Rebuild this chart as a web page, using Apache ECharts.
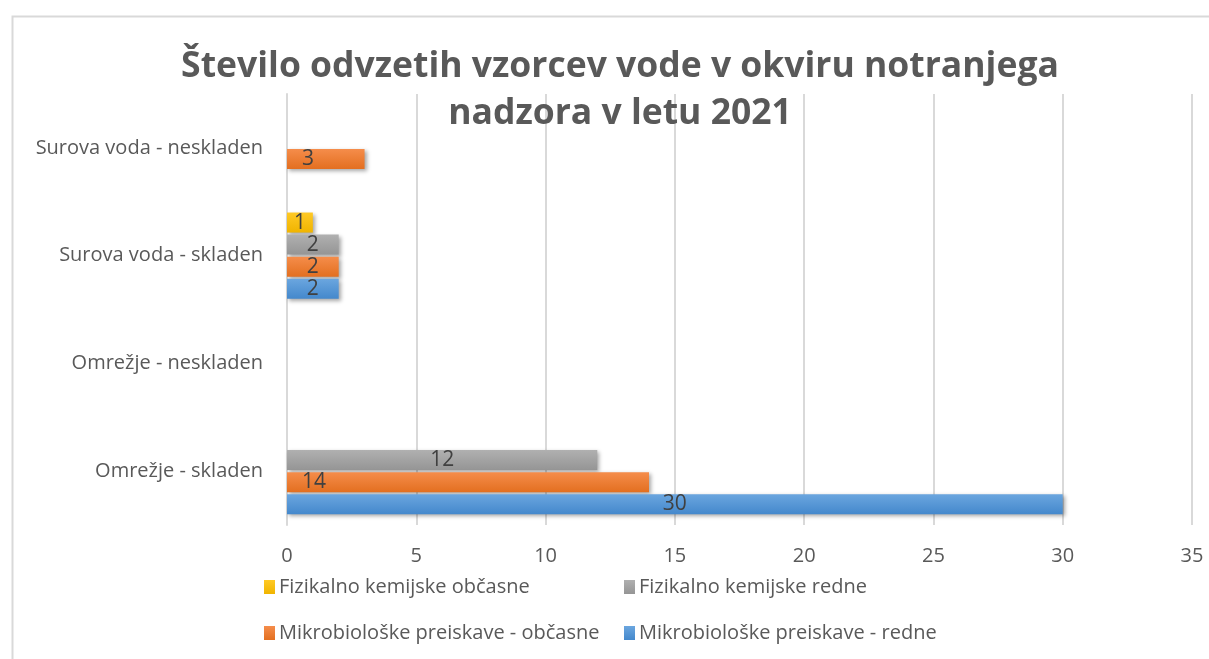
<!DOCTYPE html>
<html>
<head>
<meta charset="utf-8">
<script src="https://cdn.jsdelivr.net/npm/echarts@6/dist/echarts.min.js"></script>
<style>
  html, body { margin: 0; padding: 0; background: #fff; }
  #chart { width: 1209px; height: 659px; }
</style>
</head>
<body>
<div id="chart"></div>
<script>
var chart = echarts.init(document.getElementById('chart'));

// data
var categories = ['Omrežje - skladen', 'Omrežje - neskladen', 'Surova voda - skladen', 'Surova voda - neskladen'];
var mikroRedne = [30, null, 2, null];
var mikroObcasne = [14, null, 2, 3];
var fizRedne = [12, null, 2, null];
var fizObcasne = [null, null, 1, null];
var xTicks = [0, 5, 10, 15, 20, 25, 30, 35];

var names = {
  mr: 'Mikrobiološke preiskave - redne',
  mo: 'Mikrobiološke preiskave - občasne',
  fr: 'Fizikalno kemijske redne',
  fo: 'Fizikalno kemijske občasne'
};

var textColor = '#595959';
var font = '"Open Sans", sans-serif';

function grad(top, bottom) {
  return new echarts.graphic.LinearGradient(0, 0, 0, 1, [
    { offset: 0, color: top },
    { offset: 1, color: bottom }
  ]);
}

function makeSeries(name, values, c1, c2, leftIdx) {
  return {
    name: name,
    type: 'bar',
    barGap: '10%',
    barCategoryGap: '20%',
    data: values.map(function (v, i) {
      if (leftIdx && leftIdx.indexOf(i) >= 0) {
        return { value: v, label: { position: 'insideLeft', distance: 15 } };
      }
      return v;
    }),
    itemStyle: {
      color: grad(c1, c2),
      shadowColor: 'rgba(0,0,0,0.35)',
      shadowBlur: 4,
      shadowOffsetX: 2,
      shadowOffsetY: 2
    },
    label: {
      show: true,
      position: 'inside',
      color: '#404040',
      fontSize: 21,
      fontFamily: font
    }
  };
}

function legendItem(name, left, top) {
  return {
    data: [name],
    left: left,
    top: top,
    icon: 'rect',
    itemWidth: 11,
    itemHeight: 14,
    itemGap: 4,
    textStyle: { color: textColor, fontSize: 20, fontFamily: font, padding: [0, 0, 0, -1] }
  };
}

var option = {
  animation: false,
  backgroundColor: '#fff',
  title: {
    text: 'Število odvzetih vzorcev vode v okviru notranjega\nnadzora v letu 2021',
    left: 615,
    top: 38,
    textAlign: 'center',
    textStyle: {
      color: textColor,
      fontSize: 35.5,
      fontWeight: 'bold',
      fontFamily: font,
      lineHeight: 47
    }
  },
  graphic: [{
    type: 'rect',
    left: 10,
    top: 14,
    shape: { width: 1215, height: 660 },
    style: { fill: 'none', stroke: '#d9d9d9', lineWidth: 2 },
    z: -1
  }],
  legend: [
    legendItem(names.fo, 259, 572),
    legendItem(names.fr, 619, 572),
    legendItem(names.mo, 259, 618),
    legendItem(names.mr, 619, 618)
  ],
  grid: { left: 287, right: 17, top: 94, bottom: 134 },
  xAxis: {
    type: 'value',
    min: 0,
    max: 35,
    interval: 5,
    axisLine: { show: false },
    axisTick: { show: false },
    splitLine: { lineStyle: { color: '#d9d9d9', width: 2 } },
    axisLabel: {
      color: textColor,
      fontSize: 20,
      fontFamily: font,
      margin: 21,
      formatter: function (v) { return xTicks.indexOf(v) >= 0 ? String(v) : ''; }
    }
  },
  yAxis: {
    type: 'category',
    data: categories,
    axisTick: { show: false },
    axisLine: { show: true, lineStyle: { color: '#d9d9d9', width: 2 } },
    axisLabel: { color: textColor, fontSize: 20, fontFamily: font, margin: 24 }
  },
  // first series is drawn at the top of each group
  series: [
    makeSeries(names.fo, fizObcasne, '#ffc925', '#f0b400'),
    makeSeries(names.fr, fizRedne, '#b0b0b0', '#959595'),
    makeSeries(names.mo, mikroObcasne, '#f58d4b', '#e36f20', [0, 3]),
    makeSeries(names.mr, mikroRedne, '#6ba6df', '#4488cc')
  ]
};

chart.setOption(option);
</script>
</body>
</html>
